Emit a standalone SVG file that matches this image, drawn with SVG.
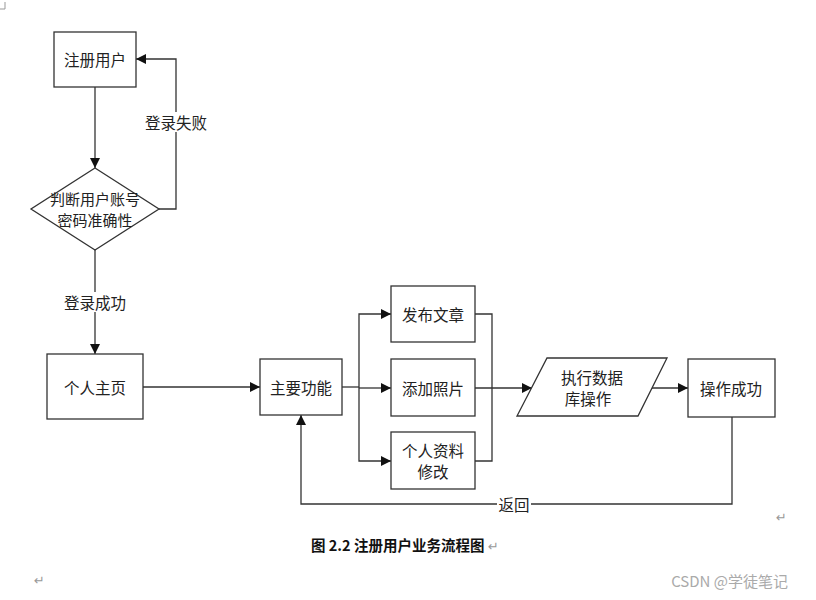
<svg xmlns="http://www.w3.org/2000/svg" width="816" height="600" viewBox="0 0 816 600">
<defs>
<marker id="arr" markerUnits="userSpaceOnUse" markerWidth="10" markerHeight="10" refX="10" refY="5" orient="auto">
<path d="M0,0 L10,5 L0,10 z" fill="#111"/>
</marker>
<style>
.box{fill:#fff;stroke:#333;stroke-width:1.3}
.ln{fill:none;stroke:#333;stroke-width:1.3}
.t{font-family:"Noto Sans CJK SC","Noto Sans",sans-serif;font-size:15.5px;fill:#222;text-anchor:middle;dominant-baseline:central}
.lbl{font-family:"Noto Sans CJK SC","Noto Sans",sans-serif;font-size:15.5px;fill:#222;text-anchor:middle;dominant-baseline:central}
.mark{font-family:"DejaVu Sans",sans-serif;font-size:13px;fill:#999}
</style>
</defs>
<rect width="816" height="600" fill="#fff"/>
<path d="M5,2 V9 H0" fill="none" stroke="#999" stroke-width="1"/>
<g id="connectors">
<line class="ln" x1="95" y1="87" x2="95" y2="168" marker-end="url(#arr)"/>
<polyline class="ln" points="159,209 176,209 176,59 136,59" marker-end="url(#arr)"/>
<line class="ln" x1="95" y1="250" x2="95" y2="354" marker-end="url(#arr)"/>
<line class="ln" x1="143" y1="387" x2="260" y2="387" marker-end="url(#arr)"/>
<line class="ln" x1="342" y1="387" x2="359" y2="387"/>
<polyline class="ln" points="359,388 359,314 391,314" marker-end="url(#arr)"/>
<polyline class="ln" points="359,388 359,461 391,461" marker-end="url(#arr)"/>
<line class="ln" x1="359" y1="388" x2="391" y2="388" marker-end="url(#arr)"/>
<polyline class="ln" points="475,314 492,314 492,461 475,461"/>
<line class="ln" x1="475" y1="388" x2="532" y2="388" stroke-width="2" marker-end="url(#arr)"/>
<line class="ln" x1="652" y1="388" x2="688" y2="388" marker-end="url(#arr)"/>
<polyline class="ln" points="732,417 732,504 301,504 301,415" marker-end="url(#arr)"/>
</g>
<g id="lbl-fail"><rect x="142" y="112" width="68" height="20" fill="#fff"/><text class="lbl" x="176" y="122">登录失败</text></g>
<g id="lbl-ok"><rect x="61" y="292" width="68" height="20" fill="#fff"/><text class="lbl" x="95" y="302">登录成功</text></g>
<g id="lbl-back"><rect x="497" y="494" width="34" height="20" fill="#fff"/><text class="lbl" x="514" y="504">返回</text></g>
<g id="n-register"><rect class="box" x="54" y="32" width="82" height="55"/><text class="t" x="95" y="59">注册用户</text></g>
<g id="n-check"><polygon class="box" points="95,168 159,209 95,250 31,209"/><text class="t" x="95" y="198" style="font-size:15px">判断用户账号</text><text class="t" x="95" y="219" style="font-size:15px">密码准确性</text></g>
<g id="n-home"><rect class="box" x="47" y="354" width="96" height="65"/><text class="t" x="95" y="387">个人主页</text></g>
<g id="n-main"><rect class="box" x="260" y="359" width="82" height="56"/><text class="t" x="301" y="387">主要功能</text></g>
<g id="n-post"><rect class="box" x="391" y="286" width="84" height="56"/><text class="t" x="433" y="314">发布文章</text></g>
<g id="n-photo"><rect class="box" x="391" y="359" width="84" height="57"/><text class="t" x="433" y="388">添加照片</text></g>
<g id="n-profile"><rect class="box" x="391" y="432" width="84" height="57"/><text class="t" x="433" y="450">个人资料</text><text class="t" x="433" y="471">修改</text></g>
<g id="n-db"><polygon class="box" points="547,358 667,358 638,416 517,416"/><text class="t" x="592" y="377">执行数据</text><text class="t" x="588" y="398">库操作</text></g>
<g id="n-done"><rect class="box" x="688" y="359" width="87" height="58"/><text class="t" x="731" y="388">操作成功</text></g>
<text x="311" y="551" font-family="'Noto Sans CJK SC',sans-serif" font-size="14.5" font-weight="bold" fill="#111">图 2.2 注册用户业务流程图</text>
<text class="mark" x="488" y="551">↵</text>
<text class="mark" x="776" y="522">↵</text>
<text class="mark" x="34" y="585">↵</text>
<text x="788" y="587" text-anchor="end" font-family="'Noto Sans CJK SC','Liberation Sans',sans-serif" font-size="15" fill="#aaa">CSDN @学徒笔记</text>
</svg>
